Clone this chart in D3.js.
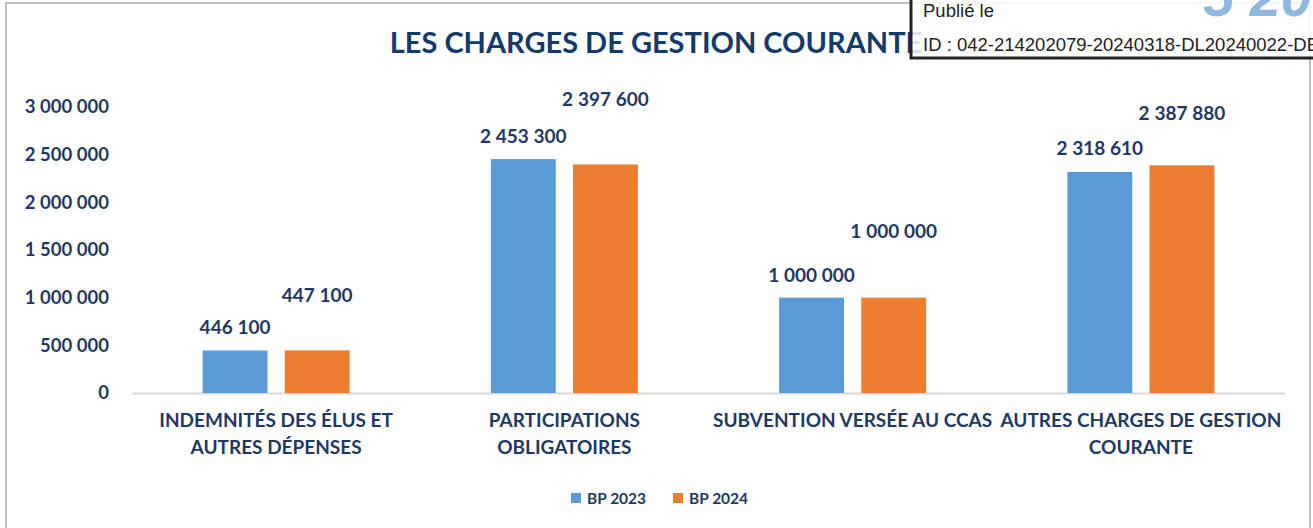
<!DOCTYPE html>
<html>
<head>
<meta charset="utf-8">
<script src="https://cdn.jsdelivr.net/npm/d3@7"></script>
<style>
  html, body { margin: 0; padding: 0; background: #fff; }
  svg { display: block; }
</style>
</head>
<body>
<div id="chart"></div>
<script>
// data
const categories = [
    ["INDEMNITÉS DES ÉLUS ET", "AUTRES DÉPENSES"],
    ["PARTICIPATIONS", "OBLIGATOIRES"],
    ["SUBVENTION VERSÉE AU CCAS"],
    ["AUTRES CHARGES DE GESTION", "COURANTE"]
];
const seriesNames = ["BP 2023", "BP 2024"];
const bp2023 = [446100, 2453300, 1000000, 2318610];
const bp2024 = [447100, 2397600, 1000000, 2387880];
const yTicks = [0, 500000, 1000000, 1500000, 2000000, 2500000, 3000000];

const title = "LES CHARGES DE GESTION COURANTE";

const width = 1313,
      height = 528;

const navy = "#1F3864",
      colors = ["#5B9BD5", "#ED7D31"],
      font = "Lato, 'Open Sans', sans-serif";

// the orange labels sit higher above their bars than the blue ones
const labelLift = [[23, 23, 23, 24], [55, 65, 67, 52]];

const fmt = v => d3.format(",")(v).replace(/,/g, "\u202F");

const svg = d3.select("#chart").append("svg")
    .attr("width", width)
    .attr("height", height);

// chart frame
svg.append("rect")
    .attr("x", 6).attr("y", 3)
    .attr("width", 1304).attr("height", 560)
    .attr("fill", "#fff")
    .attr("stroke", "#BFBFBF")
    .attr("stroke-width", 2);

const x0 = d3.scaleBand()
    .domain(d3.range(categories.length))
    .range([132, 1285])
    .paddingInner(0.49)
    .paddingOuter(0.245);

const x1 = d3.scaleBand()
    .domain(d3.range(seriesNames.length))
    .range([0, x0.bandwidth()])
    .paddingInner(0.21);

const y = d3.scaleLinear()
    .domain([0, 3000000])
    .range([393, 107]);

// y axis, labels only
const yAxis = svg.append("g")
    .attr("transform", "translate(112,0)")
    .call(d3.axisLeft(y).tickValues(yTicks).tickSize(0).tickPadding(3).tickFormat(fmt));
yAxis.select(".domain").remove();
yAxis.selectAll("text")
    .attr("fill", navy)
    .attr("font-family", font)
    .attr("font-weight", 700)
    .attr("font-size", 18.5);

// baseline
svg.append("line")
    .attr("x1", 132).attr("x2", 1285)
    .attr("y1", y(0) + 0.5).attr("y2", y(0) + 0.5)
    .attr("stroke", "#D9D9D9")
    .attr("stroke-width", 2);

const series = [bp2023, bp2024];

const groups = svg.append("g").selectAll("g")
    .data(series)
    .join("g")
    .attr("fill", (d, i) => colors[i]);

groups.each(function(values, s) {
    const g = d3.select(this);
    g.selectAll("rect")
        .data(values)
        .join("rect")
        .attr("x", (d, i) => x0(i) + x1(s))
        .attr("y", d => y(d))
        .attr("width", x1.bandwidth())
        .attr("height", d => y(0) - y(d));

    g.selectAll("text")
        .data(values)
        .join("text")
        .attr("x", (d, i) => x0(i) + x1(s) + x1.bandwidth() / 2)
        .attr("y", (d, i) => y(d) - labelLift[s][i] + 7)
        .attr("text-anchor", "middle")
        .attr("fill", navy)
        .attr("font-family", font)
        .attr("font-weight", 700)
        .attr("font-size", 19)
        .text(d => fmt(d));
});

// category labels
const catLabels = svg.append("g").selectAll("text")
    .data(categories)
    .join("text")
    .attr("x", (d, i) => x0(i) + x0.bandwidth() / 2)
    .attr("y", 427)
    .attr("text-anchor", "middle")
    .attr("fill", navy)
    .attr("font-family", font)
    .attr("font-weight", 700)
    .attr("font-size", 19);

catLabels.selectAll("tspan")
    .data(d => d)
    .join("tspan")
    .attr("x", function() { return this.parentNode.getAttribute("x"); })
    .attr("dy", (d, i) => i ? 27 : 0)
    .text(d => d);

// title
svg.append("text")
    .attr("x", 656)
    .attr("y", 53)
    .attr("text-anchor", "middle")
    .attr("fill", "#123A6B")
    .attr("font-family", font)
    .attr("font-weight", 700)
    .attr("font-size", 29)
    .text(title);

// legend
const legend = svg.append("g").selectAll("g")
    .data(seriesNames)
    .join("g")
    .attr("transform", (d, i) => `translate(${571 + i * 102},493)`);
legend.append("rect")
    .attr("width", 10).attr("height", 10)
    .attr("fill", (d, i) => colors[i]);
legend.append("text")
    .attr("x", 16).attr("y", 11)
    .attr("fill", navy)
    .attr("font-family", font)
    .attr("font-weight", 700)
    .attr("font-size", 15.5)
    .text(d => d);

// publication stamp over the top right corner
const stamp = svg.append("g");
stamp.append("rect")
    .attr("x", 911).attr("y", -4)
    .attr("width", 420).attr("height", 62)
    .attr("fill", "#fff")
    .attr("fill-opacity", 0.85)
    .attr("stroke", "#222")
    .attr("stroke-width", 3);
stamp.append("text")
    .attr("x", 1203).attr("y", 16)
    .attr("fill", "#8DB8E2")
    .attr("font-family", "'Liberation Sans', Arial, sans-serif")
    .attr("font-weight", 700)
    .attr("font-style", "italic")
    .attr("font-size", 56)
    .text("5 20");
stamp.append("text")
    .attr("x", 923).attr("y", 17)
    .attr("fill", "#222")
    .attr("font-family", "'Liberation Sans', Arial, sans-serif")
    .attr("font-size", 18.5)
    .text("Publié le");
stamp.append("text")
    .attr("x", 923).attr("y", 51)
    .attr("fill", "#222")
    .attr("font-family", "'Liberation Sans', Arial, sans-serif")
    .attr("font-size", 18.5)
    .text("ID : 042-214202079-20240318-DL20240022-DE");
</script>
</body>
</html>
